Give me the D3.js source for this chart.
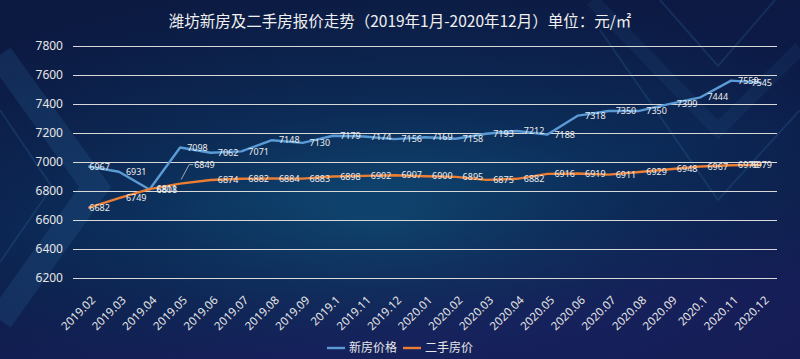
<!DOCTYPE html>
<html>
<head>
<meta charset="utf-8">
<script src="https://cdn.jsdelivr.net/npm/d3@7"></script>
<style>
  body { margin: 0; background: #0b1f4a; }
  svg { display: block; }
</style>
</head>
<body>
<div id="chart"></div>
<script>
const MONTHS = ["2019.02", "2019.03", "2019.04", "2019.05", "2019.06", "2019.07",
    "2019.08", "2019.09", "2019.1", "2019.11", "2019.12", "2020.01", "2020.02",
    "2020.03", "2020.04", "2020.05", "2020.06", "2020.07", "2020.08", "2020.09",
    "2020.1", "2020.11", "2020.12"];

const NEW_PRICE = [6967, 6931, 6808, 7098, 7062, 7071, 7148, 7130, 7179, 7174, 7156,
    7169, 7158, 7193, 7212, 7188, 7318, 7350, 7350, 7399, 7444, 7559, 7545];

const USED_PRICE = [6682, 6749, 6811, 6849, 6874, 6882, 6884, 6883, 6898, 6902, 6907,
    6900, 6895, 6875, 6882, 6916, 6919, 6911, 6929, 6948, 6967, 6976, 6979];

const Y_TICKS = [6200, 6400, 6600, 6800, 7000, 7200, 7400, 7600, 7800];

const SERIES = [
    { name: "新房价格", values: NEW_PRICE, color: "#5b9bd5" },
    { name: "二手房价", values: USED_PRICE, color: "#ed7d31" }
];

const width = 800, height = 359;
const margin = { top: 46, right: 23, bottom: 81, left: 73 };

const svg = d3.select("#chart")
    .append("svg")
    .attr("width", width)
    .attr("height", height);

// background
const defs = svg.append("defs");
const bg = defs.append("radialGradient")
    .attr("id", "bg")
    .attr("cx", "48%").attr("cy", "62%").attr("r", "70%");
bg.append("stop").attr("offset", "0%").attr("stop-color", "#0f4a74");
bg.append("stop").attr("offset", "45%").attr("stop-color", "#0c2f5c");
bg.append("stop").attr("offset", "100%").attr("stop-color", "#0d1a48");

const shade = defs.append("linearGradient")
    .attr("id", "shade")
    .attr("x1", "0%").attr("y1", "0%").attr("x2", "30%").attr("y2", "100%");
shade.append("stop").attr("offset", "0%").attr("stop-color", "#0a1838").attr("stop-opacity", 0.5);
shade.append("stop").attr("offset", "60%").attr("stop-color", "#0a1838").attr("stop-opacity", 0);
shade.append("stop").attr("offset", "100%").attr("stop-color", "#1c1a5c").attr("stop-opacity", 0.6);

svg.append("rect").attr("width", width).attr("height", height).attr("fill", "url(#bg)");
svg.append("rect").attr("width", width).attr("height", height).attr("fill", "url(#shade)");

// faint decoration
const deco = svg.append("g").attr("fill", "none").attr("stroke", "#2f6aa0");
deco.append("path")
    .attr("d", "M0,55 L95,187 L0,320")
    .attr("stroke-width", 26).attr("stroke-opacity", 0.22);
deco.append("path")
    .attr("d", "M0,110 L52,187 L0,262")
    .attr("stroke-width", 2).attr("stroke-opacity", 0.25);
deco.append("path")
    .attr("d", "M592,0 L718,130 L800,48")
    .attr("stroke-width", 14).attr("stroke-opacity", 0.12);
deco.append("path")
    .attr("d", "M600,30 L718,200 L800,110")
    .attr("stroke-width", 2).attr("stroke-opacity", 0.25);
deco.append("path")
    .attr("d", "M660,0 L718,66 L775,0")
    .attr("stroke-width", 2).attr("stroke-opacity", 0.25);

const x = d3.scaleBand()
    .domain(MONTHS)
    .range([margin.left, width - margin.right]);

const y = d3.scaleLinear()
    .domain([6200, 7800])
    .range([height - margin.bottom - 0.3, margin.top - 0.3]);

const cx = d => x(d) + x.bandwidth() / 2;

// grid
svg.append("g")
    .selectAll("line")
    .data(Y_TICKS)
    .enter()
    .append("line")
    .attr("x1", margin.left)
    .attr("x2", width - margin.right)
    .attr("y1", d => Math.round(y(d)) + 0.5)
    .attr("y2", d => Math.round(y(d)) + 0.5)
    .attr("stroke", "#d9d9d9")
    .attr("stroke-width", 1);

// y axis labels
svg.append("g")
    .attr("transform", `translate(${margin.left},0)`)
    .call(d3.axisLeft(y).tickValues(Y_TICKS).tickSize(0).tickPadding(10).tickFormat(d3.format("d")))
    .call(g => g.select(".domain").remove())
    .selectAll("text")
    .attr("fill", "#e6e6e6")
    .style("font-family", "'Noto Sans', sans-serif")
    .style("font-size", "12px");

// x axis labels
svg.append("g")
    .attr("transform", `translate(0,${height - margin.bottom})`)
    .call(d3.axisBottom(x).tickSize(0).tickPadding(0))
    .call(g => g.select(".domain").remove())
    .selectAll("text")
    .attr("fill", "#e6e6e6")
    .attr("text-anchor", "end")
    .attr("dy", "0.35em")
    .attr("transform", "translate(5,20) rotate(-45)")
    .style("font-family", "'Noto Sans', sans-serif")
    .style("font-size", "11.5px");

// title
svg.append("text")
    .attr("x", 400)
    .attr("y", 27)
    .attr("text-anchor", "middle")
    .attr("fill", "#f0f0f0")
    .style("font-family", "'Noto Sans CJK SC', sans-serif")
    .style("font-size", "15.5px")
    .text("潍坊新房及二手房报价走势（2019年1月-2020年12月）单位：元/㎡");

const line = d3.line()
    .x((d, i) => cx(MONTHS[i]))
    .y(d => y(d));

SERIES.forEach(s => {
    svg.append("path")
        .attr("d", line(s.values))
        .attr("fill", "none")
        .attr("stroke", s.color)
        .attr("stroke-width", 2.4)
        .attr("stroke-linejoin", "round");
});

// leader line for the second-hand label at 2019.05
const lx = cx("2019.05"), ly = y(USED_PRICE[3]);
svg.append("path")
    .attr("d", `M${lx + 1},${ly - 4} L${lx + 9},${ly - 19} L${lx + 13},${ly - 19}`)
    .attr("fill", "none")
    .attr("stroke", "#a6a6a6")
    .attr("stroke-width", 1);

// data labels
const last = MONTHS.length - 1;
SERIES.forEach((s, si) => {
    svg.append("g")
        .selectAll("text")
        .data(s.values)
        .enter()
        .append("text")
        .attr("x", (d, i) => {
            const px = cx(MONTHS[i]);
            if (i === last) return px;
            if (i === 0) return px + 1;
            if (si === 1 && i === 3) return px + 14;
            return px + 7;
        })
        .attr("y", (d, i) => (si === 1 && i === 3) ? y(d) - 19 : y(d))
        .attr("dy", "0.35em")
        .attr("text-anchor", (d, i) => i === last ? "middle" : "start")
        .attr("fill", "#ececec")
        .style("font-family", "'Noto Sans', sans-serif")
        .style("font-size", "9px")
        .text(d => d);
});

// legend
const legend = svg.append("g")
    .attr("transform", "translate(327,348)");

const items = legend.selectAll("g")
    .data(SERIES)
    .enter()
    .append("g")
    .attr("transform", (d, i) => `translate(${i * 76},0)`);

items.append("line")
    .attr("x1", 0).attr("x2", 18)
    .attr("stroke", d => d.color)
    .attr("stroke-width", 2.4);

items.append("text")
    .attr("x", 22)
    .attr("dy", "0.35em")
    .attr("fill", "#e6e6e6")
    .style("font-family", "'Noto Sans CJK SC', sans-serif")
    .style("font-size", "12px")
    .text(d => d.name);
</script>
</body>
</html>
